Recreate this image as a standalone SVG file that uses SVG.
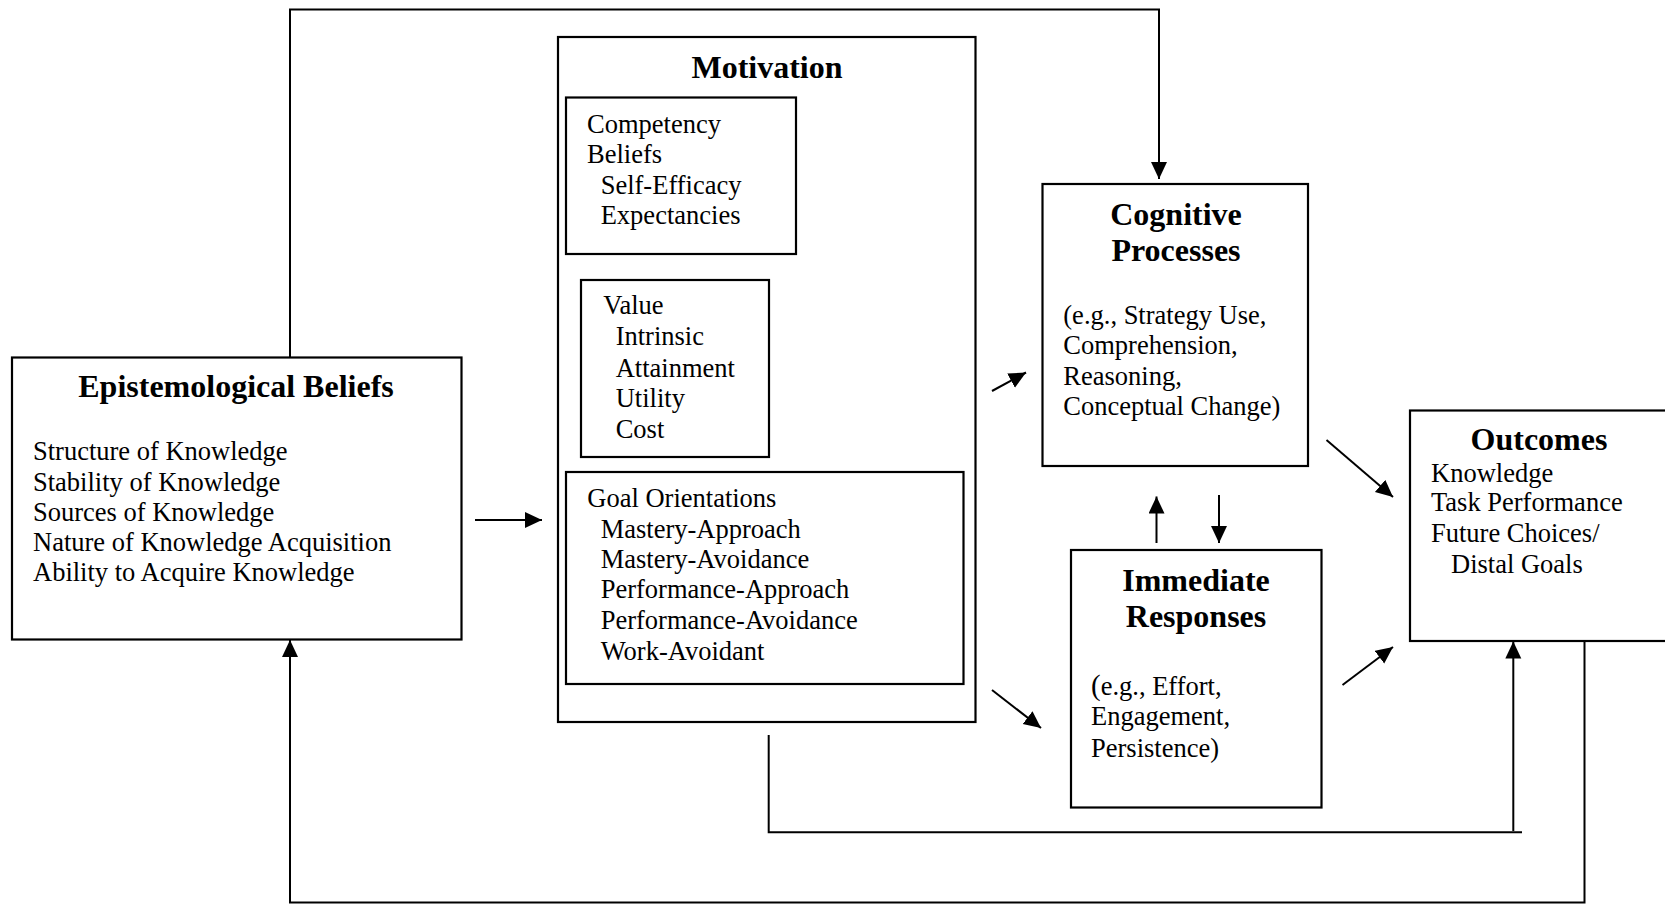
<svg xmlns="http://www.w3.org/2000/svg" width="1665" height="904" viewBox="0 0 1665 904">
<style>
  .box { fill: none; stroke: #000; stroke-width: 2.2; }
  .t { font-family: "Liberation Serif", "Times New Roman", serif; font-size: 26.5px; fill: #000; }
  .h { font-family: "Liberation Serif", "Times New Roman", serif; font-size: 32px; font-weight: bold; fill: #000; text-anchor: middle; }
  .c { fill: none; stroke: #000; stroke-width: 2; }
  .a { fill: none; stroke: #000; stroke-width: 2; marker-end: url(#arr); }
</style>
<defs>
  <marker id="arr" markerUnits="userSpaceOnUse" markerWidth="18" markerHeight="17" refX="17" refY="8" orient="auto">
    <path d="M0,0 L17,8 L0,16 z" fill="#000"/>
  </marker>
</defs>
<rect width="1665" height="904" fill="#fff"/>

<g id="connectors">
  <polyline class="a" points="290,357.5 290,9.5 1159,9.5 1159,179"/>
  <line class="a" x1="475" y1="520" x2="542" y2="520"/>
  <line class="a" x1="992" y1="391" x2="1026" y2="372.5"/>
  <line class="a" x1="992" y1="690" x2="1041" y2="728"/>
  <line class="a" x1="1326.5" y1="440" x2="1393" y2="497"/>
  <line class="a" x1="1342.5" y1="685" x2="1393" y2="647"/>
  <line class="a" x1="1156.5" y1="543" x2="1156.5" y2="496.5"/>
  <line class="a" x1="1219" y1="495" x2="1219" y2="543"/>
  <polyline class="c" points="768.7,735 768.7,832.3 1522,832.3"/>
  <line class="a" x1="1513.3" y1="831" x2="1513.3" y2="641.5"/>
  <polyline class="a" points="1584.5,641 1584.5,902.5 290,902.5 290,640"/>
</g>

<g id="epistemological">
  <rect class="box" x="12" y="357.5" width="449.5" height="282"/>
  <text class="h" x="236" y="397">Epistemological Beliefs</text>
  <text class="t" x="33" y="460">Structure of Knowledge</text>
  <text class="t" x="33" y="490.7">Stability of Knowledge</text>
  <text class="t" x="33" y="521">Sources of Knowledge</text>
  <text class="t" x="33" y="550.7">Nature of Knowledge Acquisition</text>
  <text class="t" x="33" y="580.7">Ability to Acquire Knowledge</text>
</g>

<g id="motivation">
  <rect class="box" x="558" y="37" width="417.5" height="685"/>
  <text class="h" x="767" y="78">Motivation</text>
</g>

<g id="competency">
  <rect class="box" x="566" y="97.5" width="230" height="156.5"/>
  <text class="t" x="587" y="133">Competency</text>
  <text class="t" x="587" y="162.7">Beliefs</text>
  <text class="t" x="600.7" y="194">Self-Efficacy</text>
  <text class="t" x="600.7" y="224">Expectancies</text>
</g>

<g id="value">
  <rect class="box" x="581" y="280" width="188" height="177"/>
  <text class="t" x="603.3" y="314">Value</text>
  <text class="t" x="615.7" y="345">Intrinsic</text>
  <text class="t" x="615.7" y="376.7">Attainment</text>
  <text class="t" x="615.7" y="406.7">Utility</text>
  <text class="t" x="615.7" y="438.3">Cost</text>
</g>

<g id="goal-orientations">
  <rect class="box" x="566" y="472" width="397.5" height="212"/>
  <text class="t" x="587.3" y="506.7">Goal Orientations</text>
  <text class="t" x="600.7" y="537.7">Mastery-Approach</text>
  <text class="t" x="600.7" y="568.3">Mastery-Avoidance</text>
  <text class="t" x="600.7" y="598.3">Performance-Approach</text>
  <text class="t" x="600.7" y="629.3">Performance-Avoidance</text>
  <text class="t" x="600.7" y="660">Work-Avoidant</text>
</g>

<g id="cognitive-processes">
  <rect class="box" x="1042.5" y="184" width="265.5" height="282"/>
  <text class="h" x="1176" y="225">Cognitive</text>
  <text class="h" x="1176" y="261">Processes</text>
  <text class="t" x="1063.3" y="324">(e.g., Strategy Use,</text>
  <text class="t" x="1063.3" y="354">Comprehension,</text>
  <text class="t" x="1063.3" y="384.5">Reasoning,</text>
  <text class="t" x="1063.3" y="415">Conceptual Change)</text>
</g>

<g id="immediate-responses">
  <rect class="box" x="1071" y="550" width="250.5" height="257.5"/>
  <text class="h" x="1196" y="590.5">Immediate</text>
  <text class="h" x="1196" y="626.5">Responses</text>
  <text class="t" x="1091" y="695"><tspan font-size="29">(</tspan>e.g., Effort,</text>
  <text class="t" x="1091" y="725">Engagement,</text>
  <text class="t" x="1091" y="756.7">Persistence)</text>
</g>

<g id="outcomes">
  <rect class="box" x="1410" y="410.5" width="300" height="230.5"/>
  <text class="h" x="1539" y="450">Outcomes</text>
  <text class="t" x="1431" y="481.7">Knowledge</text>
  <text class="t" x="1431" y="511">Task Performance</text>
  <text class="t" x="1431" y="541.7">Future Choices/</text>
  <text class="t" x="1451" y="573.3">Distal Goals</text>
</g>
</svg>
